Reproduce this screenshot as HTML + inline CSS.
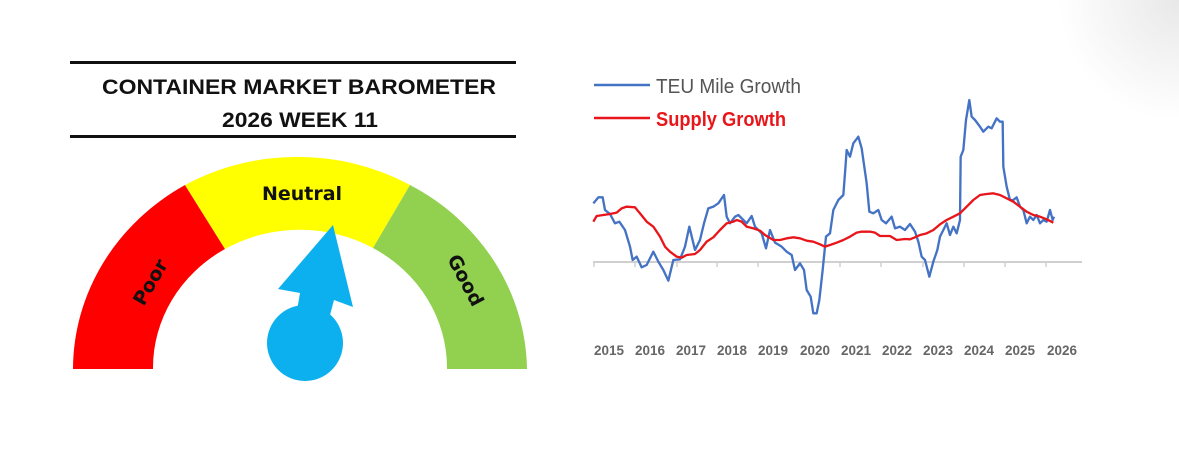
<!DOCTYPE html>
<html><head><meta charset="utf-8"><style>
html,body{margin:0;padding:0;background:#fff;}
svg{display:block;}
</style></head><body>
<svg width="1179" height="474" viewBox="0 0 1179 474" xmlns="http://www.w3.org/2000/svg">
<defs><radialGradient id="g" cx="1179" cy="0" r="120" gradientUnits="userSpaceOnUse"><stop offset="0" stop-color="#e8e8e8"/><stop offset="1" stop-color="#fff"/></radialGradient></defs>
<rect width="1179" height="474" fill="#fff"/>
<rect x="1000" y="0" width="179" height="130" fill="url(#g)"/>
<!-- title -->
<rect x="70" y="61" width="446" height="3" fill="#111"/>
<rect x="70" y="135" width="446" height="3" fill="#111"/>
<text x="299" y="94" text-anchor="middle" font-family="Liberation Sans, sans-serif" font-weight="bold" font-size="21" textLength="394" lengthAdjust="spacingAndGlyphs" fill="#111">CONTAINER MARKET BAROMETER</text>
<text x="300" y="127" text-anchor="middle" font-family="Liberation Sans, sans-serif" font-weight="bold" font-size="21" textLength="156" lengthAdjust="spacingAndGlyphs" fill="#111">2026 WEEK 11</text>
<!-- gauge -->
<path d="M73,369 A227,214 0 0 1 185,185 L225,249 A147,138 0 0 0 153,369 Z" fill="#fe0000"/>
<path d="M185,185 A227,214 0 0 1 410,185 L373,248 A147,138 0 0 0 225,249 Z" fill="#ffff00"/>
<path d="M410,185 A227,214 0 0 1 527,369 L447,369 A147,138 0 0 0 373,248 Z" fill="#92d050"/>
<text x="302" y="200" text-anchor="middle" font-family="DejaVu Sans, sans-serif" font-weight="bold" font-size="19" fill="#111">Neutral</text>
<text transform="translate(150,282) rotate(-60)" text-anchor="middle" font-family="DejaVu Sans, sans-serif" font-weight="bold" font-size="19" fill="#111" dy="7">Poor</text>
<text transform="translate(466,280) rotate(62)" text-anchor="middle" font-family="DejaVu Sans, sans-serif" font-weight="bold" font-size="19" fill="#111" dy="7">Good</text>
<circle cx="305" cy="343" r="38" fill="#0db0ee"/>
<path d="M333,225 L353,307 L334,300 L326,330 L295,322 L300,293 L278,289 Z" fill="#0db0ee"/>
<!-- chart -->
<g font-family="Liberation Sans, sans-serif" font-weight="bold">
<line x1="593" y1="262" x2="1082" y2="262" stroke="#d0d0d0" stroke-width="2"/>
<g stroke="#d0d0d0" stroke-width="1.5">
<line x1="594" y1="262" x2="594" y2="267"/><line x1="635" y1="262" x2="635" y2="267"/><line x1="677" y1="262" x2="677" y2="267"/><line x1="717" y1="262" x2="717" y2="267"/><line x1="758" y1="262" x2="758" y2="267"/><line x1="799" y1="262" x2="799" y2="267"/><line x1="840" y1="262" x2="840" y2="267"/><line x1="881" y1="262" x2="881" y2="267"/><line x1="923" y1="262" x2="923" y2="267"/><line x1="964" y1="262" x2="964" y2="267"/><line x1="1005" y1="262" x2="1005" y2="267"/><line x1="1046" y1="262" x2="1046" y2="267"/>
</g>
<g fill="#666" font-size="14" text-anchor="middle">
<text x="609" y="355" textLength="30" lengthAdjust="spacingAndGlyphs">2015</text>
<text x="650" y="355" textLength="30" lengthAdjust="spacingAndGlyphs">2016</text>
<text x="691" y="355" textLength="30" lengthAdjust="spacingAndGlyphs">2017</text>
<text x="732" y="355" textLength="30" lengthAdjust="spacingAndGlyphs">2018</text>
<text x="773" y="355" textLength="30" lengthAdjust="spacingAndGlyphs">2019</text>
<text x="815" y="355" textLength="30" lengthAdjust="spacingAndGlyphs">2020</text>
<text x="856" y="355" textLength="30" lengthAdjust="spacingAndGlyphs">2021</text>
<text x="897" y="355" textLength="30" lengthAdjust="spacingAndGlyphs">2022</text>
<text x="938" y="355" textLength="30" lengthAdjust="spacingAndGlyphs">2023</text>
<text x="979" y="355" textLength="30" lengthAdjust="spacingAndGlyphs">2024</text>
<text x="1020" y="355" textLength="30" lengthAdjust="spacingAndGlyphs">2025</text>
<text x="1062" y="355" textLength="30" lengthAdjust="spacingAndGlyphs">2026</text>
</g>
<line x1="594" y1="85" x2="650" y2="85" stroke="#4472c4" stroke-width="2.5"/>
<text x="656" y="93" font-size="20" font-weight="normal" fill="#555" textLength="145" lengthAdjust="spacingAndGlyphs">TEU Mile Growth</text>
<line x1="594" y1="118" x2="650" y2="118" stroke="#e8161b" stroke-width="2.5"/>
<text x="656" y="126" font-size="20" fill="#e8161b" textLength="130" lengthAdjust="spacingAndGlyphs">Supply Growth</text>
</g>
<g transform="translate(580,60) scale(0.33333)" fill="none" stroke-linejoin="round">
<polyline stroke="#4472c4" stroke-width="7" points="40,430 55,412 68,412 75,450 90,462 105,490 118,485 135,510 150,560 158,600 170,590 185,622 200,615 220,575 235,605 250,630 265,662 280,600 300,598 315,560 328,500 345,570 360,540 372,490 385,445 400,440 415,430 432,405 440,470 450,490 465,470 475,465 490,480 500,490 515,468 525,500 545,520 558,565 570,510 585,548 605,560 620,575 635,585 645,630 660,610 672,630 680,690 692,710 700,760 710,760 718,720 728,630 738,530 750,520 760,450 775,420 790,405 795,340 800,270 810,290 820,250 835,230 845,265 860,370 868,455 880,460 895,450 905,480 918,490 935,470 945,505 960,500 975,510 990,492 1005,515 1015,545 1025,590 1035,600 1048,650 1060,605 1072,570 1080,530 1090,510 1100,490 1110,525 1120,500 1130,520 1140,480 1142,290 1150,270 1158,180 1168,120 1175,170 1185,180 1200,200 1210,215 1225,200 1235,205 1250,175 1260,185 1268,185 1270,320 1280,380 1290,420 1300,420 1310,412 1320,440 1330,450 1340,490 1350,470 1360,480 1370,465 1380,490 1390,480 1400,485 1410,450 1418,480 1422,470"/>
<polyline stroke="#e8161b" stroke-width="7" points="40,485 50,468 70,465 90,462 110,458 125,445 140,440 165,442 180,460 200,485 220,500 240,530 255,560 270,575 290,590 305,593 320,585 345,582 360,570 380,545 400,532 420,510 440,490 460,485 470,480 485,485 500,500 520,505 540,512 555,525 580,540 600,540 620,535 640,532 660,535 680,542 700,545 720,553 735,560 750,555 770,548 790,540 810,530 830,518 845,515 870,515 885,518 900,528 930,528 950,540 975,537 990,538 1005,532 1020,525 1040,520 1060,510 1080,493 1100,480 1120,470 1140,460 1160,440 1180,420 1200,405 1220,402 1240,400 1260,405 1280,415 1300,425 1320,440 1340,455 1360,465 1380,470 1400,478 1420,488"/>
</g>
</svg>
</body></html>
